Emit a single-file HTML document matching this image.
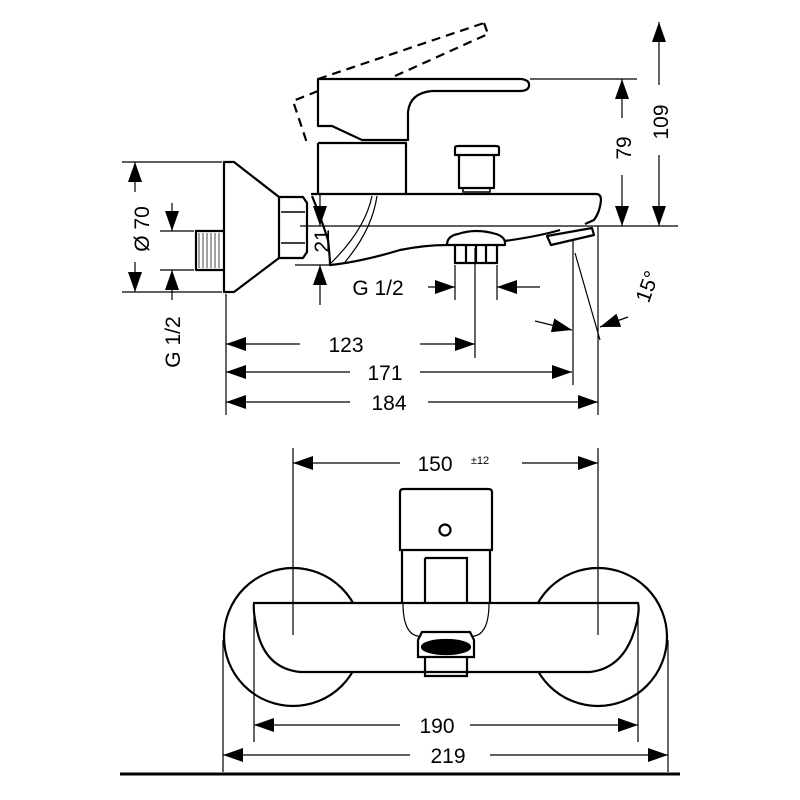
<!DOCTYPE html>
<html><head><meta charset="utf-8"><style>html,body{margin:0;padding:0;background:#fff}svg{display:block}</style></head>
<body>
<svg width="800" height="800" viewBox="0 0 800 800" xmlns="http://www.w3.org/2000/svg">
<defs>
<marker id="a" viewBox="0 0 20 14" refX="20" refY="7" markerWidth="20" markerHeight="14" markerUnits="userSpaceOnUse" orient="auto"><path d="M0,0 L20,7 L0,14 Z" fill="#000"/></marker>
</defs>
<rect width="800" height="800" fill="#fff"/>
<g fill="none" stroke="#000" stroke-width="2.2" stroke-linejoin="round">
<!-- flange -->
<path d="M224,162 V292 H234 L279,258 V197 L234,162 Z"/>
<!-- hex nut -->
<path d="M279,197 H303 L307,203 V252 L303,258 H279"/>
<path d="M281,212 H305 M281,243 H305" stroke-width="1.5"/>
<!-- threaded pipe -->
<path d="M224,231 H196 V270 H224"/>
<path d="M199,233 V268 M203,233 V268 M207,233 V268 M211,233 V268 M215,233 V268 M219,233 V268" stroke-width="1" stroke="#444"/>
<!-- body -->
<path d="M311,194 H596 Q601,194 601,200 Q600,212 594,220 L585,224"/>
<path d="M312,196 Q320,215 328,240 Q330,258 330,265 Q360,262 400,250 Q425,245 447,245"/>
<path d="M505,241 Q540,236 560,230"/>
<path d="M372,196 Q365,230 330,264" stroke-width="1.2"/>
<path d="M377,196 Q372,230 345,262" stroke-width="1.2"/>
<!-- nozzle -->
<path d="M547,236 L592,228 L594,235 L551,245 Z"/>
<!-- lever block -->
<path d="M318,143 H406 V194 M318,143 V194"/>
<path d="M318,79 H521 Q530,80 529,86 Q528,91 520,91 H432 Q410,93 408,112 V140 H362 L332,126 H318 Z"/>
<!-- dashed lever -->
<path d="M318,79 L484,23 M395,76 L488,34 M484,23 L488,34 M318,91 L293,101 L307,143" stroke-dasharray="9,6"/>
<!-- diverter knob -->
<path d="M455,155 V148 Q455,146 458,146 H496 Q499,146 499,148 V155 Z"/>
<path d="M459,155 V188 H494 V155"/>
<path d="M463,188 V192 H490 V188" stroke-width="1.5"/>
<!-- bottom outlet -->
<path d="M447,245 Q447,236 458,234 Q476,228 496,234 Q506,237 505,245 Z"/>
<path d="M455,245 V263 H497 V245 M466,245 V263 M476,245 V263 M486,245 V263"/>
</g>
<!-- thin lines -->
<g fill="none" stroke="#000" stroke-width="1.2">
<path d="M122,162 H222 M122,292 H222 M160,231 H194 M160,270 H194"/>
<path d="M295,265 H330 M300,226 H678 M530,79 H637"/>
<path d="M226,294 V415 M598,226 V415 M475,248 V358 M573,240 V385 M575,253 L600,340"/>
<path d="M455,265 V300 M497,265 V300"/>
<!-- dims -->
<line x1="135" y1="192" x2="135" y2="162" marker-end="url(#a)"/>
<line x1="135" y1="262" x2="135" y2="292" marker-end="url(#a)"/>
<line x1="172" y1="203" x2="172" y2="231" marker-end="url(#a)"/>
<line x1="172" y1="300" x2="172" y2="270" marker-end="url(#a)"/>
<line x1="320" y1="195" x2="320" y2="226" marker-end="url(#a)"/>
<line x1="320" y1="305" x2="320" y2="265" marker-end="url(#a)"/>
<line x1="428" y1="287" x2="455" y2="287" marker-end="url(#a)"/>
<line x1="540" y1="287" x2="497" y2="287" marker-end="url(#a)"/>
<line x1="535" y1="321" x2="572" y2="330" marker-end="url(#a)"/>
<line x1="628" y1="317" x2="600" y2="327" marker-end="url(#a)"/>
<line x1="300" y1="344" x2="226" y2="344" marker-end="url(#a)"/>
<line x1="420" y1="344" x2="475" y2="344" marker-end="url(#a)"/>
<line x1="350" y1="372" x2="226" y2="372" marker-end="url(#a)"/>
<line x1="420" y1="372" x2="572" y2="372" marker-end="url(#a)"/>
<line x1="350" y1="402" x2="226" y2="402" marker-end="url(#a)"/>
<line x1="428" y1="402" x2="598" y2="402" marker-end="url(#a)"/>
<line x1="622" y1="118" x2="622" y2="79" marker-end="url(#a)"/>
<line x1="622" y1="175" x2="622" y2="226" marker-end="url(#a)"/>
<line x1="659" y1="85" x2="659" y2="22" marker-end="url(#a)"/>
<line x1="659" y1="155" x2="659" y2="226" marker-end="url(#a)"/>
</g>
<!-- text side view -->
<g font-family="Liberation Sans, sans-serif" font-size="21" fill="#000">
<text transform="translate(149,229) rotate(-90)" text-anchor="middle">Ø 70</text>
<text transform="translate(180,342) rotate(-90)" text-anchor="middle">G 1/2</text>
<text transform="translate(329,241) rotate(-90)" text-anchor="middle">21</text>
<text x="378" y="295" text-anchor="middle">G 1/2</text>
<text transform="translate(654,289) rotate(-70)" text-anchor="middle">15°</text>
<text x="346" y="352" text-anchor="middle">123</text>
<text x="385" y="380" text-anchor="middle">171</text>
<text x="389" y="410" text-anchor="middle">184</text>
<text transform="translate(631,148) rotate(-90)" text-anchor="middle">79</text>
<text transform="translate(668,122) rotate(-90)" text-anchor="middle">109</text>
</g>
<!-- front view -->
<g fill="none" stroke="#000" stroke-width="2.2">
<circle cx="293" cy="637" r="69" fill="#fff"/>
<circle cx="598" cy="637" r="69" fill="#fff"/>
<path d="M254,603 H638 Q640,610 636,625 Q625,668 590,672 H300 Q263,668 256,625 Q253,610 254,603 Z" fill="#fff"/>
<path d="M400,492 Q400,489 404,489 H488 Q492,489 492,492 V550 H400 Z" fill="#fff"/>
<path d="M402,550 V603 M490,550 V603"/>
<path d="M425,558 H467 V603 M425,558 V603"/>
<circle cx="445" cy="530" r="5.5"/>
<path d="M403,603 Q403,640 425,636 M489,603 Q489,640 467,636" stroke-width="1.2"/>
<path d="M418,640 L422,632 H470 L474,640 V657 H418 Z" fill="#fff"/>
<ellipse cx="446" cy="647" rx="24" ry="7" fill="#000"/>
<path d="M425,657 V676 H467 V657"/>
<path d="M120,774 H680" stroke-width="3"/>
</g>
<g fill="none" stroke="#000" stroke-width="1.2">
<path d="M293,448 V635 M598,448 V635 M254,610 V742 M638,610 V742 M223,640 V772 M668,640 V772"/>
<line x1="400" y1="463" x2="293" y2="463" marker-end="url(#a)"/>
<line x1="522" y1="463" x2="598" y2="463" marker-end="url(#a)"/>
<line x1="400" y1="725" x2="254" y2="725" marker-end="url(#a)"/>
<line x1="470" y1="725" x2="638" y2="725" marker-end="url(#a)"/>
<line x1="410" y1="755" x2="223" y2="755" marker-end="url(#a)"/>
<line x1="490" y1="755" x2="668" y2="755" marker-end="url(#a)"/>
</g>
<g font-family="Liberation Sans, sans-serif" font-size="21" fill="#000">
<text x="435" y="471" text-anchor="middle">150</text>
<text x="480" y="464" text-anchor="middle" font-size="11">±12</text>
<text x="437" y="733" text-anchor="middle">190</text>
<text x="448" y="763" text-anchor="middle">219</text>
</g>
</svg>
</body></html>
